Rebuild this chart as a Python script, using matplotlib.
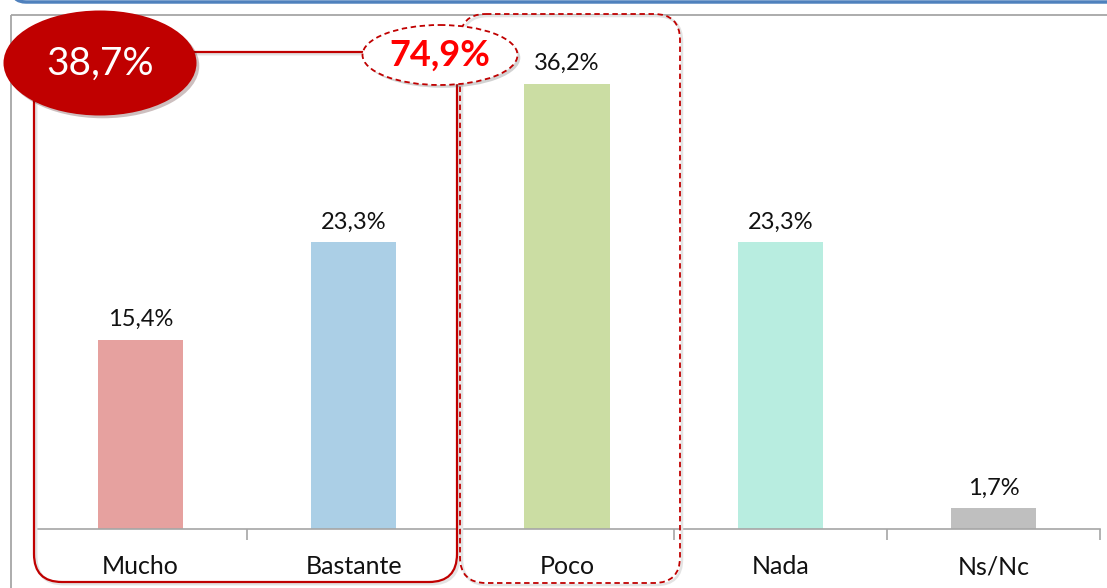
import matplotlib
matplotlib.use("Agg")
import matplotlib.pyplot as plt
from matplotlib.patches import Ellipse, FancyBboxPatch, Rectangle
import matplotlib.patheffects as pe

categories = ["Mucho", "Bastante", "Poco", "Nada", "Ns/Nc"]
values = [15.4, 23.3, 36.2, 23.3, 1.7]
bar_colors = ["#e6a19f", "#abcfe6", "#cbdda3", "#b8ede0", "#bfbfbf"]


def pct(v):
    return f"{v:.1f}%".replace(".", ",")


plt.rcParams["font.family"] = ["Lato", "DejaVu Sans"]

fig = plt.figure(figsize=(11.07, 5.88), dpi=100)
ax = fig.add_axes([34 / 1107, 1 - 529 / 588, 1066 / 1107, 492 / 588])
ax.set_facecolor("none")

x = list(range(len(categories)))
bars = ax.bar(x, values, width=0.4, color=bar_colors)
ax.bar_label(bars, labels=[pct(v) for v in values], padding=7, fontsize=17, color="#111111")

ax.set_xlim(-0.5, len(categories) - 0.5)
ax.set_ylim(0, 40)
ax.set_yticks([])
for s in ["top", "left", "right"]:
    ax.spines[s].set_visible(False)
ax.spines["bottom"].set_color("#a6a6a6")
ax.spines["bottom"].set_linewidth(1.2)
ax.set_xticks(x)
ax.set_xticklabels(categories, fontsize=18, color="#111111")
ax.tick_params(axis="x", which="major", length=0, pad=19)
ax.set_xticks([i - 0.5 for i in range(len(categories) + 1)], minor=True)
ax.tick_params(axis="x", which="minor", length=8, color="#a6a6a6", width=1.2)

# overlay in pixel coordinates for frame and group callouts
ov = fig.add_axes([0, 0, 1, 1], zorder=5)
ov.set_xlim(0, 1107)
ov.set_ylim(588, 0)
ov.axis("off")
ov.patch.set_alpha(0)

ov.add_patch(FancyBboxPatch((12, -60), 1200, 62, boxstyle="round,pad=0,rounding_size=14",
                            fc="none", ec="#4f81bd", lw=2.5))
ov.add_patch(Rectangle((11, 15), 1200, 600, fc="none", ec="#a6a6a6", lw=1.3))

shadow = [pe.SimplePatchShadow(offset=(2, -2), alpha=0.25), pe.Normal()]

# group outlines, with a faint offset copy as shadow
for (x0, y0, w, h, r, ls, lw) in [(34, 52, 423, 530, 28, "-", 1.6),
                                  (460, 14, 220, 569, 26, (0, (3, 2)), 1.3)]:
    ov.add_patch(FancyBboxPatch((x0 + 2, y0 + 2), w, h, boxstyle=f"round,pad=0,rounding_size={r}",
                                fc="none", ec="#e3e3e3", lw=lw + 0.5))
    ov.add_patch(FancyBboxPatch((x0, y0), w, h, boxstyle=f"round,pad=0,rounding_size={r}",
                                fc="none", ec="#c00000", lw=lw, ls=ls))

ov.add_patch(Ellipse((100, 63), 193, 105, fc="#c00000", ec="none", path_effects=shadow))
ov.add_patch(Ellipse((440, 55), 155, 60, fc="white", ec="#c00000", lw=1.3, ls=(0, (3, 2)),
                     path_effects=shadow))

group1 = values[0] + values[1]
group2 = group1 + values[2]
ov.text(100, 64, pct(group1), color="white", fontsize=28, ha="center", va="center")
ov.text(440, 55, pct(group2), color="#ff0000", fontsize=26, fontweight="bold",
        ha="center", va="center")

fig.savefig("out.png", dpi=100)
